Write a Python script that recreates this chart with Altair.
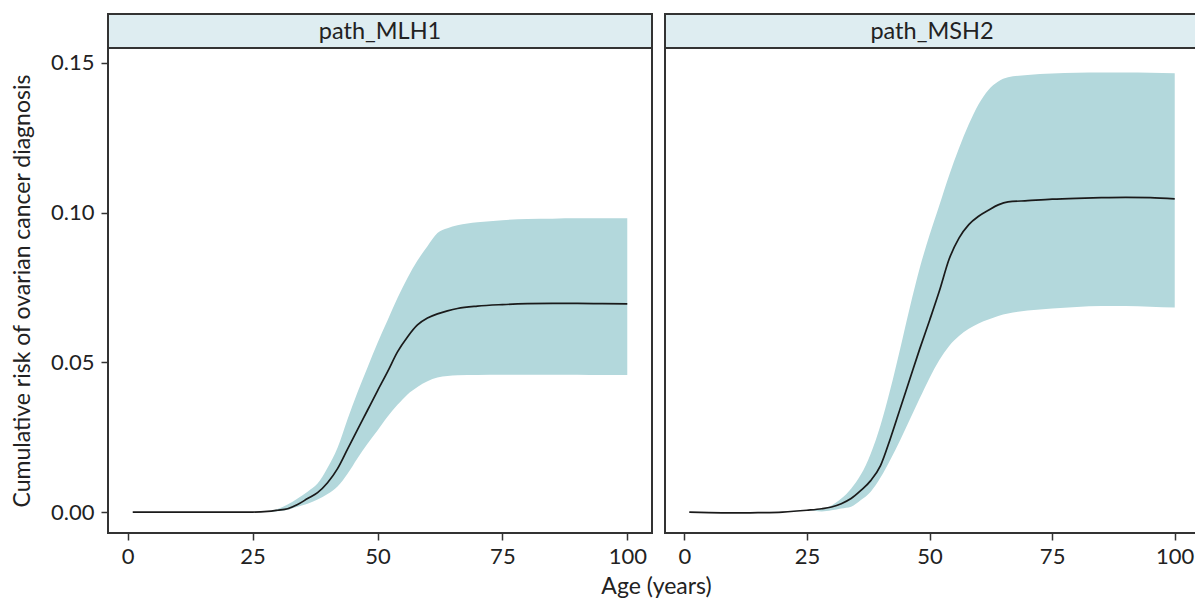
import altair as alt
import pandas as pd

ages = [1, 5, 10, 15, 20, 25, 28, 30, 32, 34, 36, 38, 40, 42, 44, 46, 48, 50,
        52, 54, 56, 58, 60, 62, 64, 66, 70, 75, 80, 85, 90, 95, 100]

genes = ["path_MLH1", "path_MSH2"]

mlh1_est = [0, 0, 0, 0, 0, 0, 0.0002, 0.0006, 0.0011, 0.0025, 0.0045, 0.0065, 0.0098,
            0.0145, 0.021, 0.0275, 0.034, 0.0405, 0.0468, 0.0535, 0.0585, 0.0625,
            0.0648, 0.0662, 0.0672, 0.068, 0.0688, 0.0693, 0.0696, 0.0697, 0.0697,
            0.0696, 0.0695]
mlh1_lo = [0, 0, 0, 0, 0, 0, 0.0, 0.0003, 0.0008, 0.0018, 0.0028, 0.0042, 0.006,
           0.0085, 0.0128, 0.018, 0.0228, 0.0272, 0.0318, 0.0358, 0.0393, 0.0418,
           0.0437, 0.0449, 0.0454, 0.0457, 0.0458, 0.0459, 0.0459, 0.0459, 0.0459,
           0.0458, 0.0458]
mlh1_hi = [0, 0, 0, 0, 0, 0, 0.0002, 0.001, 0.0025, 0.0045, 0.0068, 0.0095, 0.0148,
           0.0215, 0.031, 0.040, 0.0483, 0.0565, 0.064, 0.0715, 0.0782, 0.084,
           0.0888, 0.0932, 0.0948, 0.0958, 0.0968, 0.0975, 0.0979, 0.098, 0.0981,
           0.0981, 0.0981]

msh2_est = [0, -0.0002, -0.0003, -0.0002, 0.0, 0.0006, 0.0011, 0.0017, 0.0028, 0.0045,
            0.0072, 0.0105, 0.0155, 0.0245, 0.0345, 0.0445, 0.0545, 0.064, 0.0738,
            0.0845, 0.0915, 0.096, 0.0988, 0.1008, 0.1026, 0.1036, 0.104, 0.1045,
            0.1048, 0.105, 0.1051, 0.105, 0.1046]
msh2_lo = [0, -0.0002, -0.0003, -0.0002, 0.0, 0.0006, 0.0002, 0.0006, 0.0012, 0.0018,
           0.004, 0.0068, 0.0115, 0.0175, 0.024, 0.031, 0.038, 0.0448, 0.0508,
           0.0555, 0.0588, 0.0612, 0.063, 0.0643, 0.0655, 0.0663, 0.0673, 0.068,
           0.0685, 0.0688, 0.0688, 0.0686, 0.0683]
msh2_hi = [0, -0.0002, -0.0003, -0.0002, 0.0, 0.0006, 0.0011, 0.0022, 0.0045, 0.0078,
           0.0125, 0.0195, 0.029, 0.041, 0.0545, 0.0685, 0.0815, 0.0925, 0.1025,
           0.1125, 0.1215, 0.1295, 0.1362, 0.141, 0.1438, 0.1452, 0.146, 0.1465,
           0.1467, 0.1468, 0.1468, 0.1467, 0.1466]

x_ticks = [0, 25, 50, 75, 100]
y_ticks = [0.0, 0.05, 0.10, 0.15]

PW1, PW2, PH, SH = 544, 534, 485, 34
RIBBON = "#b3d8dc"
STRIP = "#deedf1"
BORDER = "#333333"
TEXT = "#222222"

xscale = alt.Scale(domain=[-3.95, 104.95], nice=False, zero=False)
yscale = alt.Scale(domain=[-0.0070, 0.1550], nice=False, zero=False)


def make_panel(est, lo, hi, first, width):
    df = pd.DataFrame({"age": ages, "est": est, "lo": lo, "hi": hi})
    if first:
        xaxis = alt.Axis(values=x_ticks, title="Age (years)", titleX=548,
                         titleY=60, titleBaseline="alphabetic")
        yaxis = alt.Axis(values=y_ticks, format=".2f",
                         title="Cumulative risk of ovarian cancer diagnosis",
                         titlePadding=16, labelPadding=7)
    else:
        xaxis = alt.Axis(values=x_ticks, title=None)
        yaxis = None
    band = alt.Chart(df).mark_area(color=RIBBON, opacity=1,
                                   interpolate="monotone").encode(
        x=alt.X("age:Q", scale=xscale, axis=xaxis),
        y=alt.Y("lo:Q", scale=yscale, axis=yaxis),
        y2="hi:Q",
    )
    line = alt.Chart(df).mark_line(color="#1a1a1a", strokeWidth=1.7,
                                   interpolate="monotone").encode(
        x=alt.X("age:Q", scale=xscale, axis=xaxis),
        y=alt.Y("est:Q", scale=yscale, axis=yaxis),
    )
    return alt.layer(band, line).properties(width=width, height=PH)


def make_strip(label, width):
    df = pd.DataFrame({"label": [label]})
    return alt.Chart(df).mark_text(fontSize=23.5, font="Lato", color=TEXT,
                                   baseline="middle", align="center").encode(
        text="label:N",
        x=alt.value(width / 2),
        y=alt.value(SH / 2 + 1),
    ).properties(width=width, height=SH,
                 view=alt.ViewBackground(fill=STRIP, stroke=BORDER, strokeWidth=2))


p1 = make_panel(mlh1_est, mlh1_lo, mlh1_hi, True, PW1)
p2 = make_panel(msh2_est, msh2_lo, msh2_hi, False, PW2)

chart = alt.concat(
    make_strip(genes[0], PW1), make_strip(genes[1], PW2), p1, p2,
    columns=2,
    spacing=alt.RowColnumber(row=0, column=13),
    bounds="flush",
    align="each",
).properties(
    autosize=alt.AutoSizeParams(type="none"),
    padding={"left": 100, "top": 6, "right": 1087, "bottom": 585},
).configure_view(
    stroke=BORDER, strokeWidth=2
).configure_axis(
    domain=False, grid=False,
    tickColor=BORDER, tickSize=7, tickWidth=1.5,
    labelColor=TEXT, labelFont="Lato", labelFontSize=22, labelPadding=6,
    titleColor=TEXT, titleFont="Lato", titleFontSize=23, titleFontWeight="normal",
)

chart.save("out.html", embed_options={"renderer": "svg", "actions": False})
